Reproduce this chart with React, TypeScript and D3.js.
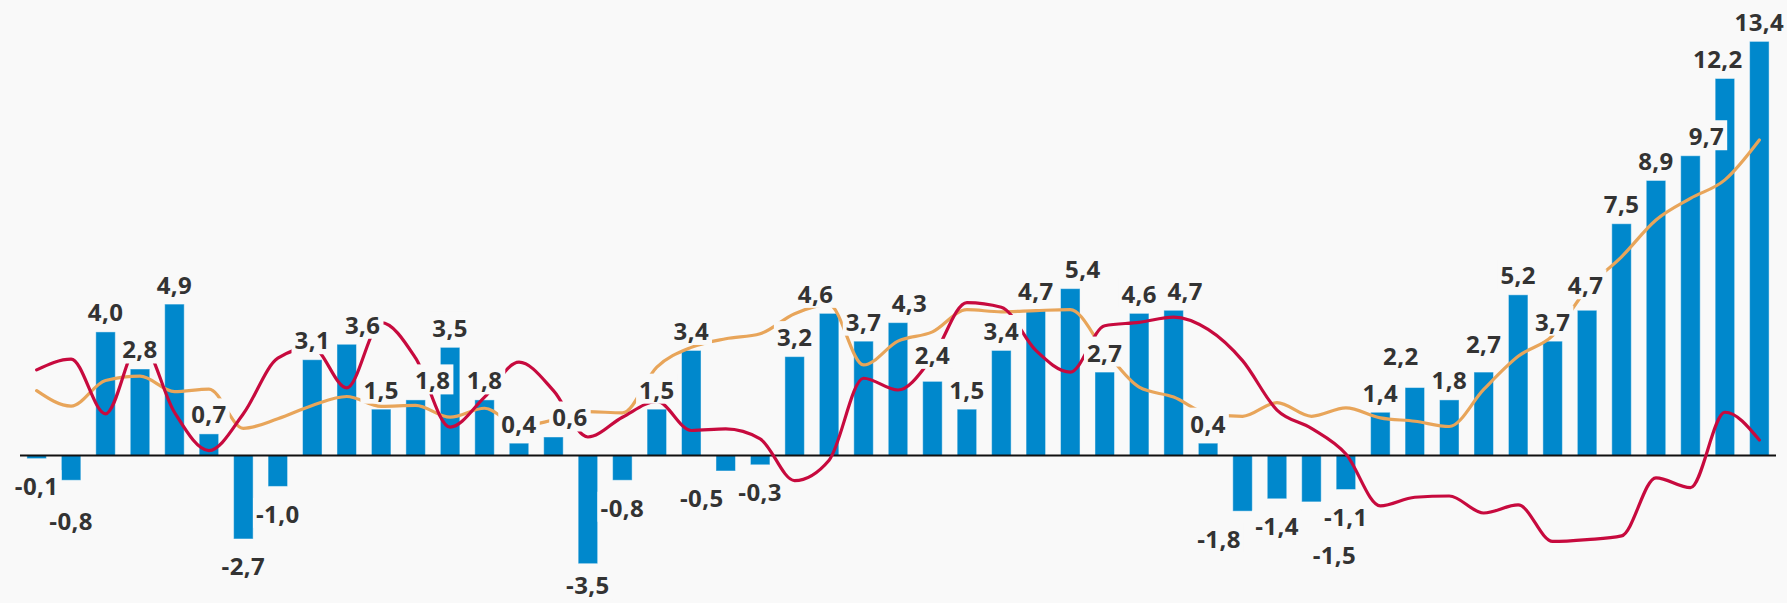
import { useEffect, useRef } from "react";
import * as d3 from "d3";

const W = 1787;
const H = 603;

// bar values, one per period
const barValues = [
  -0.1, -0.8, 4.0, 2.8, 4.9, 0.7, -2.7, -1.0, 3.1, 3.6, 1.5, 1.8, 3.5, 1.8, 0.4, 0.6, -3.5,
  -0.8, 1.5, 3.4, -0.5, -0.3, 3.2, 4.6, 3.7, 4.3, 2.4, 1.5, 3.4, 4.7, 5.4, 2.7, 4.6, 4.7,
  0.4, -1.8, -1.4, -1.5, -1.1, 1.4, 2.2, 1.8, 2.7, 5.2, 3.7, 4.7, 7.5, 8.9, 9.7, 12.2, 13.4,
];
const periods = barValues.map((_, i) => `P${i + 1}`);

// red line
const redValues = [
  2.77, 3.12, 1.35, 3.7, 1.4, 0.16, 1.35, 3.15, 3.5, 2.19, 4.3, 3.15, 0.92, 1.89, 3.02, 2.1, 0.6,
  1.24, 1.75, 0.81, 0.86, 0.54, -0.81, -0.15, 2.5, 2.12, 3.18, 4.95, 4.8, 3.4, 2.7, 4.2, 4.31, 4.48,
  4.08, 3.07, 1.47, 0.88, 0.05, -1.63, -1.35, -1.31, -1.86, -1.6, -2.78, -2.72, -2.6, -0.72, -1.04, 1.4, 0.5,
];

// orange line
const orangeValues = [
  2.1, 1.6, 2.43, 2.57, 2.07, 2.15, 0.88, 1.19, 1.62, 1.91, 1.59, 1.62, 1.24, 1.53, 0.95, 1.15, 1.42,
  1.38, 2.86, 3.5, 3.78, 3.94, 4.59, 4.88, 2.93, 3.7, 4.0, 4.72, 4.65, 4.69, 4.72, 3.4, 2.21, 1.89,
  1.35, 1.27, 1.71, 1.27, 1.54, 1.22, 1.11, 0.94, 2.14, 3.21, 3.88, 5.4, 6.43, 7.62, 8.32, 8.92, 10.21,
];

// labels moved aside to avoid overlaps: [dx, dy]
const labelNudge: Record<number, [number, number]> = {
  1: [0, 13], 9: [16, 0], 11: [17, 0], 15: [16.5, 0], 16: [0, -6], 20: [-24, 0], 23: [-13.5, 0],
  25: [11.5, 0], 26: [0, -7], 30: [12.5, 0], 33: [11.5, 0], 35: [-23.5, 0], 37: [23, 26],
  40: [-14, -12], 42: [0, -9], 45: [-1.5, -5.5], 48: [16, 0], 49: [-7, 0],
};

const BG = "#f9f9f9";

export default function App() {
  const svgRef = useRef<SVGSVGElement>(null);

  useEffect(() => {
    document.body.style.margin = "0";
    if (!svgRef.current) return;
    const svg = d3.select(svgRef.current);
    svg.selectAll("*").remove();

    const x = d3.scaleBand<string>()
      .domain(periods)
      .range([20, 1776])
      .paddingInner(0.434)
      .paddingOuter(0.2);
    const y = d3.scaleLinear().domain([-4.5, 14.5]).range([594.6, 7.4]);
    const cx = (i: number) => (x(periods[i]) ?? 0) + x.bandwidth() / 2;

    const fmt = d3.formatLocale({
      decimal: ",", thousands: ".", grouping: [3], currency: ["", ""], minus: "-",
    }).format(".1f");

    svg.append("rect").attr("width", W).attr("height", H).attr("fill", BG);

    svg.append("g")
      .selectAll("rect")
      .data(barValues)
      .join("rect")
      .attr("x", (_, i) => x(periods[i]) ?? 0)
      .attr("width", x.bandwidth())
      .attr("y", d => y(Math.max(0, d)))
      .attr("height", d => Math.abs(y(d) - y(0)))
      .attr("fill", "#0088cc")
      .attr("stroke", "#ffffff")
      .attr("stroke-opacity", 0.45)
      .attr("stroke-width", 1);

    svg.append("line")
      .attr("x1", x.range()[0]).attr("x2", x.range()[1])
      .attr("y1", y(0)).attr("y2", y(0))
      .attr("stroke", "#111").attr("stroke-width", 2);

    const line = d3.line<number>()
      .x((_, i) => cx(i))
      .y(d => y(d))
      .curve(d3.curveMonotoneX);

    svg.append("path").attr("d", line(orangeValues))
      .attr("fill", "none").attr("stroke", "#e8a55a").attr("stroke-width", 3.2)
      .attr("stroke-linecap", "round");
    svg.append("path").attr("d", line(redValues))
      .attr("fill", "none").attr("stroke", "#c70a3e").attr("stroke-width", 3.2)
      .attr("stroke-linecap", "round");

    const labels = svg.append("g")
      .attr("font-family", "'Open Sans', 'Noto Sans', sans-serif")
      .attr("font-weight", 700)
      .attr("font-size", 24)
      .attr("letter-spacing", 0.4)
      .attr("fill", "#333");

    barValues.forEach((v, i) => {
      const [dx, dy] = labelNudge[i] ?? [0, 0];
      const centerY = v >= 0 ? y(v) - 19 : y(v) + 28;
      const g = labels.append("g");
      const t = g.append("text")
        .attr("x", cx(i) + dx)
        .attr("y", centerY + dy + 8.5)
        .attr("text-anchor", "middle")
        .text(fmt(v));
      const b = (t.node() as SVGTextElement).getBBox();
      g.insert("rect", "text")
        .attr("x", b.x - 3)
        .attr("y", b.y + 1)
        .attr("width", b.width + 6)
        .attr("height", b.height - 3)
        .attr("fill", BG);
    });
  }, []);

  return <svg ref={svgRef} width={W} height={H} style={{ display: "block" }} />;
}
